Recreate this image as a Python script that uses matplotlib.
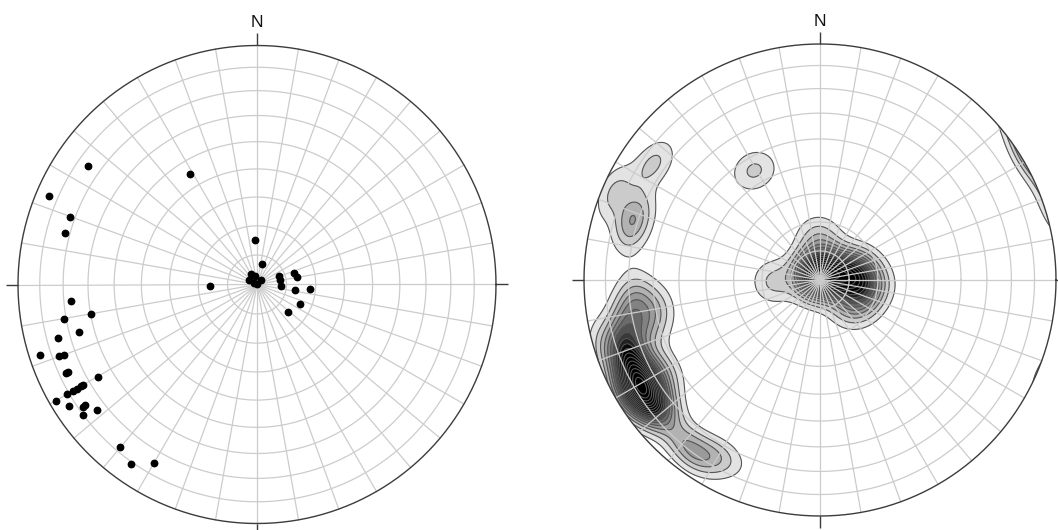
import numpy as np
import matplotlib
matplotlib.use("Agg")
import matplotlib.pyplot as plt
from matplotlib.patches import Circle

# poles to planes, lower hemisphere, trend / plunge in degrees
trend = [305, 293, 290, 285, 329, 358, 13, 329, 348, 297, 293, 211, 40, 268,
         68, 80, 94, 73, 79, 98, 95, 115, 131, 265, 260, 260, 255, 255,
         252, 250, 250, 245, 245, 240, 240, 240, 240, 240, 240, 240, 237, 235,
         235, 232, 233, 220, 215, 210]
plunge = [15, 6, 18, 18, 45, 75, 83, 86, 87, 87, 89, 90, 88, 74,
          82, 82, 82, 77, 76, 77, 72, 74, 76, 23, 19, 30, 15, 24,
          5, 13, 15, 13, 14, 24, 12, 14, 16, 17, 9, 3, 7, 12,
          13, 16, 10, 12, 9, 15]

W, H = 1058, 530
fig = plt.figure(figsize=(W / 100, H / 100), dpi=100)

GRID = "#cccccc"
EDGE = "#3c3c3c"


def add_net(cx, cy, R):
    m = 1.12
    ax = fig.add_axes([(cx - m * R) / W, (H - cy - m * R) / H, 2 * m * R / W, 2 * m * R / H])
    ax.set_xlim(-m, m)
    ax.set_ylim(-m, m)
    ax.axis("off")
    return ax


def project(tr, pl):
    # equal-area (Schmidt), unit primitive
    tr = np.radians(np.asarray(tr, float))
    pl = np.radians(np.asarray(pl, float))
    r = np.sqrt(2) * np.sin((np.pi / 2 - pl) / 2)
    return r * np.sin(tr), r * np.cos(tr)


def draw_frame(ax, R):
    t = np.linspace(0, 2 * np.pi, 721)
    for a in np.radians(np.arange(0, 360, 10)):
        ax.plot([0, np.sin(a)], [0, np.cos(a)], color=GRID, lw=0.9, zorder=4)
    for p in range(10, 90, 10):
        r = np.sqrt(2) * np.sin(np.radians(90 - p) / 2)
        ax.plot(r * np.cos(t), r * np.sin(t), color=GRID, lw=0.9, zorder=4)
    ax.plot(np.cos(t), np.sin(t), color=EDGE, lw=1.0, zorder=6)
    tl = 12.0 / R
    for a in np.radians([0, 90, 180, 270]):
        ax.plot([np.sin(a), (1 + tl) * np.sin(a)], [np.cos(a), (1 + tl) * np.cos(a)],
                color=EDGE, lw=1.0, zorder=6, solid_capstyle="butt")
    ax.text(0, 1 + 18.0 / R, "N", ha="center", va="baseline", fontsize=12.5,
            family=["Liberation Sans", "DejaVu Sans"], color="#111111")


def density(gx, gy, tr, pl, k):
    # exponential kernel on axial data (both ends of each pole)
    r = np.clip(np.hypot(gx, gy), 0, 1)
    th = 2 * np.arcsin(r / np.sqrt(2))
    az = np.arctan2(gx, gy)
    v = np.stack([np.sin(th) * np.sin(az), np.sin(th) * np.cos(az), -np.cos(th)], -1)
    trr = np.radians(np.asarray(tr, float))
    plr = np.radians(np.asarray(pl, float))
    p = np.stack([np.cos(plr) * np.sin(trr), np.cos(plr) * np.cos(trr), -np.sin(plr)], -1)
    c = np.abs(v @ p.T)
    return np.exp(k * (c - 1)).sum(-1)


# left: poles
ax1 = add_net(257, 284.5, 239)
draw_frame(ax1, 239)
x, y = project(trend, plunge)
ax1.plot(x, y, "o", color="black", ms=4.6, zorder=8)

# right: density contours
R2 = 236
ax2 = add_net(820, 280, R2)
g = np.linspace(-1.02, 1.02, 440)
gx, gy = np.meshgrid(g, g)
d = density(gx, gy, trend, plunge, k=125)
step = 0.45
lv = step * np.arange(1, int(d.max() / step) + 1)
lv_f = np.append(lv, d.max() + 1)
n = len(lv)
t = np.linspace(0, 1, n)
cols = [str(v) for v in 0.89 * np.clip(1 - t / 0.55, 0, 1)]
clip = Circle((0, 0), 1, transform=ax2.transData)
cf = ax2.contourf(gx, gy, d, levels=lv_f, colors=cols, zorder=1)
cf.set_clip_path(clip)
cl = ax2.contour(gx, gy, d, levels=lv, colors="#555555", linewidths=0.8, zorder=2)
cl.set_clip_path(clip)
draw_frame(ax2, R2)

fig.savefig("out.png", dpi=100, facecolor="white")
